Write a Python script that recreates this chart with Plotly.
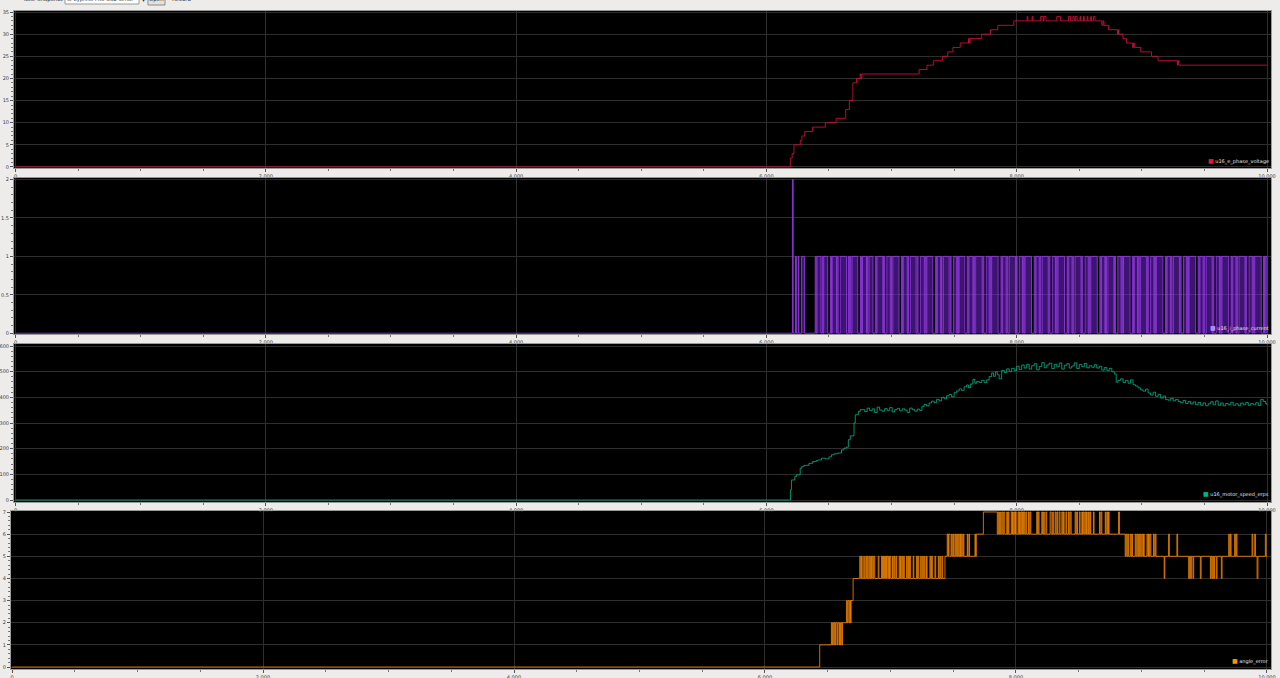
import plotly.graph_objects as go

# ---------------- data ----------------
x_tick_step = 2000

volt_x = [0, 6191, 6206, 6220, 6271, 6283, 6306, 6369, 6471, 6557, 6634, 6663, 6691, 6720, 6749,
          6757, 6763, 7220, 7283, 7334, 7406, 7449, 7491, 7549, 7615, 7622, 7628, 7720, 7791,
          7849, 7977, 8083, 8089, 8123, 8129, 8191, 8212, 8218, 8234, 8320, 8349, 8414, 8431,
          8449, 8460, 8471, 8483, 8506, 8511, 8534, 8540, 8563, 8569, 8591, 8597, 8614, 8626,
          8680, 8690, 8697, 8734, 8806, 8811, 8816, 8849, 8877, 8926, 8934, 8940, 8991, 9077,
          9129, 9285, 9290, 9296, 10000]
volt_y = [0, 2, 3, 5, 6, 7, 8, 9, 10, 11, 13, 15, 19, 20, 21,
          20, 21, 22, 23, 24, 25, 26, 27, 28, 29, 28, 29, 30, 31,
          32, 33, 34, 33, 34, 33, 34, 33, 34, 33, 34, 33, 34, 33,
          34, 33, 34, 33, 34, 33, 34, 33, 34, 33, 34, 33, 34, 33,
          32, 33, 32, 31, 30, 31, 30, 29, 28, 27, 28, 27, 26, 25,
          24, 23, 24, 23, 23]

cur_spike_x = [0, 6208, 6214]
cur_spike_y = [0, 2, 0]
cur_on_start = [6232, 6254, 6281, 6390, 6404, 6445, 6458, 6512, 6526, 6566, 6590, 6655, 6668, 6684,
                6752, 6768, 6806, 6820, 6870, 6884, 6936, 6962, 6996, 7010, 7080, 7094, 7132, 7150,
                7204, 7230, 7268, 7282, 7352, 7366, 7398, 7414, 7468, 7494, 7526, 7540, 7604, 7618,
                7656, 7672, 7730, 7756, 7786, 7800, 7874, 7888, 7922, 7940, 7996, 8020, 8052, 8066,
                8140, 8154, 8186, 8204, 8258, 8284, 8316, 8330, 8402, 8416, 8448, 8466, 8520, 8546,
                8578, 8592, 8664, 8678, 8710, 8728, 8782, 8808, 8840, 8854, 8926, 8940, 8972, 8990,
                9044, 9070, 9102, 9116, 9188, 9202, 9234, 9252, 9306, 9332, 9364, 9378, 9450, 9464,
                9496, 9514, 9568, 9594, 9626, 9640, 9712, 9726, 9758, 9776, 9830, 9856, 9888, 9902,
                9972, 9986]
cur_on_end = [6240, 6260, 6304, 6398, 6436, 6452, 6490, 6520, 6560, 6574, 6640, 6662, 6676, 6730,
              6760, 6800, 6812, 6852, 6878, 6930, 6944, 6990, 7002, 7060, 7088, 7126, 7138, 7196,
              7212, 7262, 7276, 7330, 7360, 7392, 7404, 7460, 7476, 7520, 7534, 7586, 7612, 7650,
              7662, 7724, 7738, 7780, 7794, 7852, 7882, 7916, 7930, 7990, 8004, 8046, 8060, 8118,
              8148, 8180, 8194, 8252, 8266, 8310, 8324, 8382, 8410, 8442, 8456, 8514, 8528, 8572,
              8586, 8644, 8672, 8704, 8718, 8776, 8790, 8834, 8848, 8906, 8934, 8966, 8980, 9038,
              9052, 9096, 9110, 9168, 9196, 9228, 9242, 9300, 9314, 9358, 9372, 9430, 9458, 9490,
              9504, 9562, 9576, 9620, 9634, 9692, 9720, 9752, 9766, 9824, 9838, 9882, 9896, 9954,
              9980, 10000]

speed_x = [0, 6193, 6200, 6227, 6240, 6270, 6283, 6300, 6340, 6370, 6400, 6410, 6440, 6470, 6500,
           6520, 6540, 6570, 6600, 6620, 6640, 6655, 6670, 6700, 6710, 6735, 6750,
           6765, 6785, 6805, 6825, 6845, 6865, 6885, 6905, 6925, 6945, 6965, 6985, 7005, 7025,
           7045, 7065, 7085, 7105, 7125, 7145, 7165, 7185, 7205, 7225,
           7243, 7260, 7280, 7300, 7320, 7340, 7360, 7380, 7400, 7420, 7440, 7460, 7480, 7500,
           7520, 7540, 7560, 7580, 7600, 7615, 7630, 7650, 7665, 7680, 7700, 7720, 7740, 7760,
           7780, 7800, 7815, 7830, 7845, 7860, 7880, 7900, 7920, 7940, 7960, 7980, 8000, 8020,
           8040, 8060, 8080, 8100, 8120, 8140, 8160, 8180, 8200, 8220, 8240, 8260, 8280, 8300,
           8320, 8340, 8360, 8380, 8400, 8420, 8440, 8460, 8480, 8500, 8520, 8540, 8560, 8580,
           8600, 8620, 8640, 8660, 8680, 8700, 8720, 8740, 8760, 8780, 8795, 8810, 8830, 8850,
           8870, 8890, 8910, 8930, 8950, 8970, 8990, 9010, 9030, 9050, 9070, 9090, 9110, 9130,
           9150, 9170, 9190, 9210, 9230, 9250, 9270, 9290, 9310, 9330, 9350, 9370, 9390, 9410,
           9430, 9450, 9470, 9490, 9510, 9530, 9550, 9570, 9590, 9610, 9630, 9650, 9670, 9690,
           9710, 9730, 9750, 9770, 9790, 9810, 9830, 9850, 9870, 9890, 9910, 9930, 9950, 9970,
           9990, 10000]
speed_y = [0, 40, 78, 91, 98, 124, 130, 135, 143, 150, 154, 156, 163, 160, 168,
           176, 180, 183, 195, 202, 206, 235, 250, 300, 332, 345, 352,
           352, 345, 358, 348, 355, 341, 362, 350, 346, 356, 349, 360, 343, 352,
           357, 347, 355, 350, 341, 358, 352, 346, 354, 349,
           365, 372, 366, 378, 385, 379, 392, 386, 400, 394, 406, 411, 402, 418,
           425, 433, 427, 441, 448, 437, 452, 470, 455, 462, 458, 466, 457, 468,
           481, 495, 482, 500, 488, 472, 505, 497, 511, 500, 513, 504, 521, 508,
           526, 514, 529, 510, 523, 531, 507, 520, 535, 515, 526, 533, 512, 529,
           519, 534, 510, 525, 531, 514, 522, 534, 512, 528, 519, 532, 515, 523,
           517, 527, 514, 521, 506, 516, 505, 513, 500, 491, 459, 466, 472, 458,
           466, 455, 468, 449, 444, 437, 429, 424, 432, 417, 409, 420, 404, 412,
           397, 405, 391, 389, 396, 386, 392, 384, 379, 388, 376, 384, 374, 382,
           371, 380, 369, 378, 367, 375, 383, 371, 386, 369, 378, 367, 376, 371,
           381, 369, 375, 367, 378, 371, 380, 369, 376, 371, 379, 368, 392, 384,
           375, 371]

angle_x = [0, 6436, 6529, 6535, 6540, 6548, 6552, 6560, 6565, 6575, 6580, 6590, 6595, 6600, 6605,
           6612, 6618, 6649, 6656, 6662, 6670, 6676, 6682, 6686, 6702,
           6755, 6762, 6769, 6775, 6787, 6792, 6803, 6810, 6815, 6822, 6830, 6836, 6842, 6849,
           6855, 6862, 6868, 6875, 6902, 6908, 6928, 6934, 6938, 6945, 6950, 6955, 6960, 6968,
           6972, 6980, 6985, 6992, 6996, 7003, 7016, 7022, 7030, 7036, 7045, 7050, 7069, 7075,
           7080, 7086, 7094, 7100, 7106, 7110, 7128, 7134, 7141, 7146, 7152, 7160, 7181, 7186,
           7208, 7214, 7220, 7226, 7240, 7246, 7256, 7262, 7270, 7276, 7287, 7292, 7314, 7320,
           7327, 7334, 7354, 7360, 7381, 7386, 7394, 7400, 7410, 7416, 7434,
           7452, 7458, 7462, 7474, 7487, 7492, 7500, 7505, 7514, 7520, 7527, 7533, 7540, 7546,
           7553, 7558, 7567, 7572, 7580, 7585, 7612, 7616, 7625, 7630, 7673, 7678, 7684,
           7740, 7851, 7858, 7864, 7870, 7876, 7886, 7894, 7902, 7910, 7926, 7932, 7939, 7944,
           7962, 7968, 7972, 7978, 7984, 7990, 7996, 8002, 8016, 8022, 8028, 8034, 8040, 8046,
           8052, 8060, 8066, 8072, 8080, 8086, 8099, 8104, 8112, 8118, 8165, 8172, 8178, 8184,
           8205, 8212, 8220, 8226, 8238, 8245, 8272, 8280, 8292, 8298, 8312, 8318, 8326, 8332,
           8344, 8351, 8365, 8372, 8378, 8384, 8398, 8404, 8418, 8424, 8432, 8440, 8471, 8477,
           8484, 8490, 8505, 8511, 8524, 8530, 8536, 8543, 8550, 8556, 8562, 8568, 8578, 8584,
           8591, 8596, 8617, 8622, 8665, 8670, 8678, 8684, 8711, 8716, 8724, 8730, 8737, 8742,
           8817, 8825,
           8870, 8876, 8883, 8890, 8897, 8910, 8916, 8923, 8928, 8950, 8956, 8963, 8970, 8977,
           8983, 8990, 8996, 9003, 9010, 9016, 9022, 9043, 9050, 9056, 9062, 9068, 9075, 9096,
           9102, 9110, 9116, 9181, 9186, 9216, 9222, 9282, 9288, 9376, 9382, 9390, 9398, 9410,
           9416, 9469, 9475, 9549, 9555, 9562, 9568, 9575, 9582, 9596, 9602, 9636, 9642, 9695,
           9700, 9708, 9714, 9742, 9748, 9755, 9761, 9881, 9887, 9902, 9908, 9921, 9928, 9987,
           9993, 10000]
angle_y = [0, 1, 2, 1, 2, 1, 2, 1, 2, 1, 2, 1, 2, 1, 2,
           1, 2, 3, 2, 3, 2, 3, 2, 3, 4,
           5, 4, 5, 4, 5, 4, 5, 4, 5, 4, 5, 4, 5, 4,
           5, 4, 5, 4, 5, 4, 5, 4, 5, 4, 5, 4, 5, 4,
           5, 4, 5, 4, 5, 4, 5, 4, 5, 4, 5, 4, 5, 4,
           5, 4, 5, 4, 5, 4, 5, 4, 5, 4, 5, 4, 5, 4,
           5, 4, 5, 4, 5, 4, 5, 4, 5, 4, 5, 4, 5, 4,
           5, 4, 5, 4, 5, 4, 5, 4, 5, 4, 5,
           6, 5, 6, 5, 6, 5, 6, 5, 6, 5, 6, 5, 6, 5,
           6, 5, 6, 5, 6, 5, 6, 5, 6, 5, 6, 5, 6,
           7, 6, 7, 6, 7, 6, 7, 6, 7, 6, 7, 6, 7, 6,
           7, 6, 7, 6, 7, 6, 7, 6, 7, 6, 7, 6, 7, 6,
           7, 6, 7, 6, 7, 6, 7, 6, 7, 6, 7, 6, 7, 6,
           7, 6, 7, 6, 7, 6, 7, 6, 7, 6, 7, 6, 7, 6,
           7, 6, 7, 6, 7, 6, 7, 6, 7, 6, 7, 6, 7, 6,
           7, 6, 7, 6, 7, 6, 7, 6, 7, 6, 7, 6, 7, 6,
           7, 6, 7, 6, 7, 6, 7, 6, 7, 6, 7, 6, 7, 6,
           7, 6,
           5, 6, 5, 6, 5, 6, 5, 6, 5, 6, 5, 6, 5, 6,
           5, 6, 5, 6, 5, 6, 5, 6, 5, 6, 5, 6, 5, 6,
           5, 6, 5, 4, 5, 6, 5, 6, 5, 4, 5, 4, 5, 4,
           5, 4, 5, 4, 5, 4, 5, 4, 5, 4, 5, 4, 5, 6,
           5, 6, 5, 6, 5, 6, 5, 6, 5, 6, 5, 4, 5, 6,
           5, 5]

series_names = ["u16_e_phase_voltage", "u16_i_phase_current", "u16_motor_speed_erps", "angle_error"]

assert len(volt_x) == len(volt_y)
assert len(speed_x) == len(speed_y)
assert len(angle_x) == len(angle_y)
assert len(cur_on_start) == len(cur_on_end)

# build current step series from on-intervals
cur_x = list(cur_spike_x)
cur_y = list(cur_spike_y)
for s, e in zip(cur_on_start, cur_on_end):
    cur_x += [s, e]
    cur_y += [1, 0]

# ---------------- layout ----------------
W, H = 1280, 678
FONT = "DejaVu Sans"

panels = [
    dict(top=11, bottom=168, left=14, right=1271, xr=[-12, 10032], yr=[-0.23, 35.23], ydt=5, ymin=1,
         color="#e0103f", sq="#e8143f", leg_y=161, leg_x=1271),
    dict(top=178, bottom=334, left=14, right=1271, xr=[-12, 10032], yr=[-0.01, 2.02], ydt=0.5, ymin=0.1,
         color="#9b3cf0", sq="#b48cf5", leg_y=328, leg_x=1271),
    dict(top=344, bottom=502, left=14, right=1271, xr=[-12, 10032], yr=[-7.8, 607.8], ydt=100, ymin=20,
         color="#00b386", sq="#00b386", leg_y=494, leg_x=1271),
    dict(top=511, bottom=669, left=11, right=1271, xr=[-8, 10032], yr=[-0.09, 7.045], ydt=1, ymin=0.2,
         color="#ff8c00", sq="#ff9000", leg_y=661, leg_x=1271),
]

fig = go.Figure()

data_sets = [(volt_x, volt_y), (cur_x, cur_y), (speed_x, speed_y), (angle_x, angle_y)]
for i, ((xs, ys), p) in enumerate(zip(data_sets, panels)):
    n = "" if i == 0 else str(i + 1)
    kw = dict(x=xs, y=ys, mode="lines", line=dict(color=p["color"], width=0.8, shape="hv"),
              xaxis="x" + n, yaxis="y" + n, showlegend=False, hoverinfo="skip")
    if i == 1:
        kw.update(fill="tozeroy", fillcolor="rgba(110,40,200,0.55)")
    fig.add_trace(go.Scatter(**kw))

layout = dict(
    width=W, height=H, autosize=False,
    margin=dict(l=0, r=0, t=0, b=0, autoexpand=False),
    paper_bgcolor="#edecea",
    plot_bgcolor="#000000",
    font=dict(family=FONT, size=5, color="#3a3a3a"),
    showlegend=False,
)

annotations = []
shapes = []
for i, p in enumerate(panels):
    n = "" if i == 0 else str(i + 1)
    layout["xaxis" + n] = dict(
        domain=[p["left"] / W, p["right"] / W], range=p["xr"], anchor="y" + n,
        tickmode="linear", tick0=0, dtick=x_tick_step, tickformat=",d",
        ticks="outside", ticklen=3, tickwidth=1, tickcolor="#555",
        showgrid=True, gridcolor="#2e2e2e", gridwidth=1, zeroline=False,
        showline=True, linecolor="#9a9a9a", linewidth=1, mirror=True,
        tickfont=dict(size=5, color="#3a3a3a", family=FONT),
        minor=dict(tickmode="linear", tick0=0, dtick=500, ticks="outside", ticklen=2,
                   tickcolor="#777", showgrid=False),
        fixedrange=True,
    )
    layout["yaxis" + n] = dict(
        domain=[1 - p["bottom"] / H, 1 - p["top"] / H], range=p["yr"], anchor="x" + n,
        tickmode="linear", tick0=0, dtick=p["ydt"],
        ticks="outside", ticklen=3, tickwidth=1, tickcolor="#555",
        showgrid=True, gridcolor="#2e2e2e", gridwidth=1, zeroline=False,
        showline=True, linecolor="#9a9a9a", linewidth=1, mirror=True,
        tickfont=dict(size=5, color="#3a3a3a", family=FONT),
        minor=dict(tickmode="linear", tick0=0, dtick=p["ymin"], ticks="outside", ticklen=2,
                   tickcolor="#777", showgrid=False),
        fixedrange=True,
    )
    annotations.append(dict(
        xref="paper", yref="paper", x=p["leg_x"] / W, y=1 - p["leg_y"] / H,
        xanchor="right", yanchor="middle", showarrow=False,
        text='<span style="color:%s;font-size:6px">■</span> %s' % (p["sq"], series_names[i]),
        font=dict(size=5, color="#e6e6e6", family=FONT),
    ))

# toolbar remnants at the very top (only their lower halves are visible)
shapes.append(dict(type="rect", xref="paper", yref="paper", x0=65 / W, x1=139 / W,
                   y0=1 - 4 / H, y1=1 + 6 / H, fillcolor="#ffffff", line=dict(color="#9a9a9a", width=1)))
shapes.append(dict(type="rect", xref="paper", yref="paper", x0=148 / W, x1=165 / W,
                   y0=1 - 5 / H, y1=1 + 6 / H, fillcolor="#e2e1de", line=dict(color="#8a8a8a", width=1)))
for txt, cx, fs in [("Take Snapshot", 42, 5.5), ("st-Cypress-FX3-USB-Serial", 100, 5), ("▾", 143, 6),
                    ("Open", 156.5, 5.5), ("Record", 181, 5.5)]:
    annotations.append(dict(xref="paper", yref="paper", x=cx / W, y=1, yshift=1,
                            xanchor="center", yanchor="middle", showarrow=False, text=txt,
                            font=dict(size=fs, color="#333333", family=FONT)))

layout["annotations"] = annotations
layout["shapes"] = shapes
fig.update_layout(**layout)

post = ("document.documentElement.style.overflow='hidden';"
        "document.body.style.margin='0';document.body.style.padding='0';"
        "document.body.style.overflow='hidden';"
        "var gd=document.getElementById('{plot_id}');"
        "gd.style.width='1280px';gd.style.height='678px';"
        "Plotly.relayout(gd,{width:1280,height:678});")

fig.write_html("out.html",
               config={"displayModeBar": False, "responsive": False},
               default_width="1280px", default_height="678px",
               post_script=post)
